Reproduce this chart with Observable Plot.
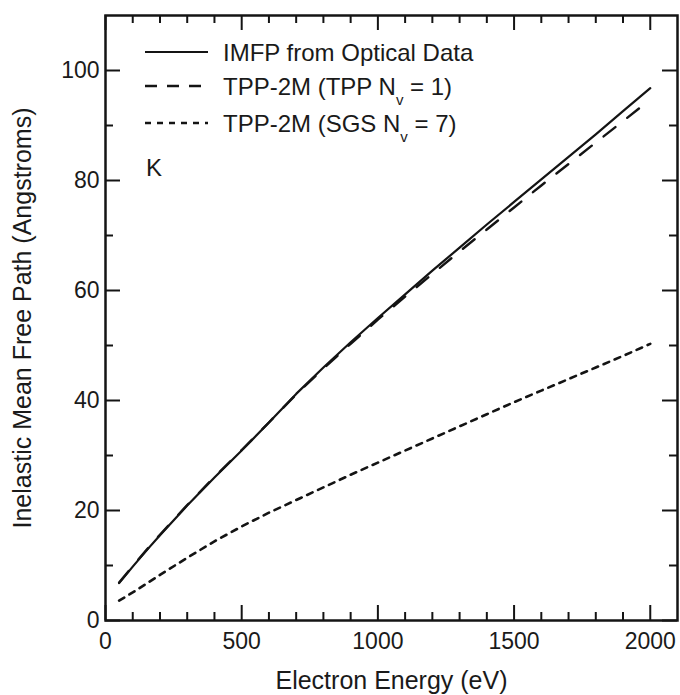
<!DOCTYPE html>
<html><head><meta charset="utf-8">
<script src="https://cdn.jsdelivr.net/npm/d3@7"></script>
<script src="https://cdn.jsdelivr.net/npm/@observablehq/plot@0.6"></script>
<style>
body{margin:0;background:#fff;}
#wrap{position:relative;width:680px;height:695px;font-family:"Liberation Sans",Arial,Helvetica,sans-serif;color:#1a1a1a;}
#legend{position:absolute;left:0;top:0;pointer-events:none;}
</style></head><body><div id="wrap"></div>
<script>
// Electron energy grid (eV)
const energy = [50,100,150,200,300,400,500,600,700,800,900,1000,1100,1200,1300,1400,1500,1600,1700,1800,1900,2000];
// IMFP from optical data (Angstroms)
const optical = [6.8,9.8,12.7,15.5,20.9,26.0,30.9,36.0,41.2,46.0,50.6,55.0,59.3,63.6,67.8,72.0,76.1,80.2,84.3,88.4,92.6,96.8];
// TPP-2M (TPP Nv = 1)
const tppN1 = [6.9,9.9,12.8,15.6,21.0,26.1,31.0,36.0,41.1,45.8,50.3,54.7,58.9,63.0,67.1,71.1,75.1,79.1,83.0,86.9,90.8,94.7];
// TPP-2M (SGS Nv = 7)
const sgsN7 = [3.6,5.1,6.7,8.3,11.4,14.4,17.1,19.6,21.9,24.2,26.5,28.7,30.9,33.1,35.3,37.5,39.7,41.8,43.9,46.0,48.1,50.3];

const xMajor = [0,500,1000,1500,2000];
const xMinor = [100,200,300,400,600,700,800,900,1100,1200,1300,1400,1600,1700,1800,1900];
const yMajor = [0,20,40,60,80,100];
const yMinor = [10,30,50,70,90];

const seriesNames = ["IMFP from Optical Data","TPP-2M (TPP Nv = 1)","TPP-2M (SGS Nv = 7)"];
const rows = energy.map((e,i)=>({e, optical: optical[i], tpp: tppN1[i], sgs: sgsN7[i]}));

const W=680, H=695, mL=105, mR=3, mT=15, mB=75;
const ih = H-mT-mB, iw = W-mL-mR;
const ink = "#141414";
const majorLen = 15, minorLen = 8;
const FONT = '"Liberation Sans", Arial, Helvetica, sans-serif';

const chart = Plot.plot({
  width: W, height: H,
  marginLeft: mL, marginRight: mR, marginTop: mT, marginBottom: mB,
  style: {fontFamily: FONT, fontSize: "23px", color: "#1a1a1a", background: "#fff"},
  x: {domain: [0, 2100]},
  y: {domain: [0, 110]},
  marks: [
    Plot.tickX(xMajor, {x: d=>d, insetTop: ih-majorLen, stroke: ink, strokeWidth: 2}),
    Plot.tickX(xMinor, {x: d=>d, insetTop: ih-minorLen, stroke: ink, strokeWidth: 2}),
    Plot.tickX(xMajor, {x: d=>d, insetBottom: ih-majorLen, stroke: ink, strokeWidth: 2}),
    Plot.tickX(xMinor, {x: d=>d, insetBottom: ih-minorLen, stroke: ink, strokeWidth: 2}),
    Plot.tickY(yMajor, {y: d=>d, insetRight: iw-majorLen, stroke: ink, strokeWidth: 2}),
    Plot.tickY(yMinor, {y: d=>d, insetRight: iw-minorLen, stroke: ink, strokeWidth: 2}),
    Plot.tickY(yMajor, {y: d=>d, insetLeft: iw-majorLen, stroke: ink, strokeWidth: 2}),
    Plot.tickY(yMinor, {y: d=>d, insetLeft: iw-minorLen, stroke: ink, strokeWidth: 2}),
    Plot.axisX(xMajor, {tickSize: 0, tickPadding: 12, fontSize: 23, tickFormat: d3.format("d"), label: null}),
    Plot.axisY(yMajor, {tickSize: 0, tickPadding: 6, fontSize: 23, tickFormat: d3.format("d"), label: null}),
    Plot.axisX({ticks: [], tickSize: 0, fontSize: 25, label: "Electron Energy (eV)", labelAnchor: "center", labelOffset: 68, labelArrow: "none"}),
    Plot.axisY({ticks: [], tickSize: 0, fontSize: 25, label: "Inelastic Mean Free Path (Angstroms)", labelAnchor: "center", labelOffset: 92, labelArrow: "none"}),
    Plot.line(rows, {x: "e", y: "sgs", stroke: ink, strokeWidth: 2.6, strokeDasharray: "6,6"}),
    Plot.line(rows, {x: "e", y: "tpp", stroke: ink, strokeWidth: 2.4, strokeDasharray: "15,15"}),
    Plot.line(rows, {x: "e", y: "optical", stroke: ink, strokeWidth: 2.2}),
    Plot.frame({stroke: ink, strokeWidth: 2.5})
  ]
});
const wrap = document.getElementById("wrap");
wrap.appendChild(chart);

// Legend overlay (inside the plot area, top-left)
const ns = "http://www.w3.org/2000/svg";
const leg = document.createElementNS(ns, "svg");
leg.setAttribute("id","legend"); leg.setAttribute("width", W); leg.setAttribute("height", 200);
const dashes = [null, "12,10", "6,6"];
const widths = [2.2, 2.4, 2.6];
const ys = [52, 86, 123];
function mkText(x, y, size){ const t=document.createElementNS(ns,"text"); t.setAttribute("x",x); t.setAttribute("y",y); t.setAttribute("font-size",size); t.setAttribute("fill","#1a1a1a"); t.setAttribute("font-family",FONT); return t; }
seriesNames.forEach((name,i)=>{
  const l=document.createElementNS(ns,"line");
  l.setAttribute("x1",145); l.setAttribute("x2",208); l.setAttribute("y1",ys[i]); l.setAttribute("y2",ys[i]);
  l.setAttribute("stroke",ink); l.setAttribute("stroke-width",widths[i]);
  if (dashes[i]) l.setAttribute("stroke-dasharray",dashes[i]);
  leg.appendChild(l);
  const t = mkText(223, ys[i]+8.5, 24);
  const m = name.match(/^(.*N)v( = \d\))$/);
  if (m) {
    t.appendChild(document.createTextNode(m[1]));
    const s=document.createElementNS(ns,"tspan"); s.setAttribute("dy","10"); s.setAttribute("font-size","15"); s.textContent="v"; t.appendChild(s);
    const r=document.createElementNS(ns,"tspan"); r.setAttribute("dy","-10"); r.textContent=m[2]; t.appendChild(r);
  } else t.textContent = name;
  leg.appendChild(t);
});
const k = mkText(146, 176, 24); k.textContent = "K"; leg.appendChild(k);
wrap.appendChild(leg);
</script>
</body></html>
